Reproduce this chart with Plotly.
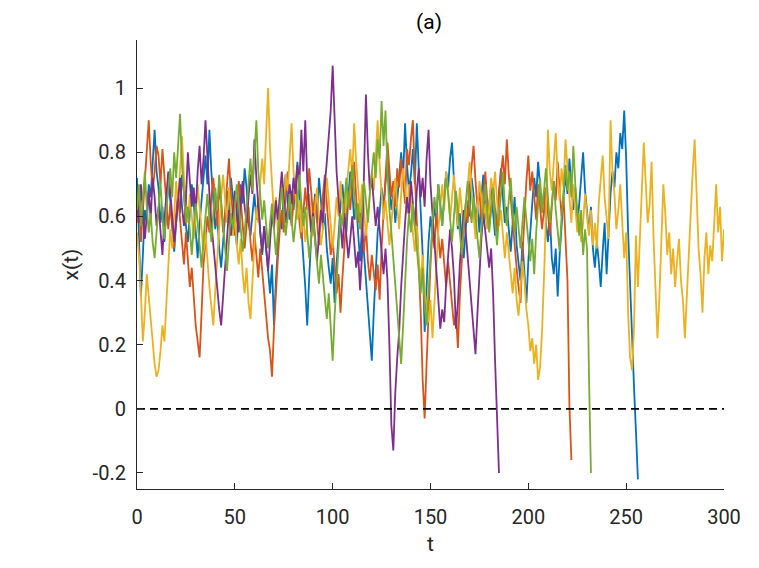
import plotly.graph_objects as go

blue_x = [
    0.72, 0.55, 0.35, 0.48, 0.62, 0.58, 0.70, 0.66, 0.78, 0.87,
    0.74, 0.69, 0.58, 0.63, 0.52, 0.60, 0.71, 0.65, 0.56, 0.49,
    0.58, 0.66, 0.61, 0.73, 0.68, 0.57, 0.52, 0.62, 0.70, 0.64,
    0.55, 0.47, 0.58, 0.66, 0.72, 0.79, 0.70, 0.87, 0.74, 0.63,
    0.56, 0.61, 0.50, 0.44, 0.53, 0.62, 0.68, 0.60, 0.72, 0.66,
    0.59, 0.51, 0.63, 0.70, 0.64, 0.75, 0.69, 0.58, 0.54, 0.62,
    0.67, 0.59, 0.65, 0.55, 0.48, 0.57, 0.50, 0.42, 0.36, 0.45,
    0.26, 0.40, 0.52, 0.61, 0.56, 0.67, 0.73, 0.64, 0.59, 0.68,
    0.62, 0.71, 0.77, 0.66, 0.55, 0.47, 0.38, 0.26, 0.41, 0.53,
    0.60, 0.67, 0.58, 0.72, 0.65, 0.56, 0.61, 0.50, 0.44, 0.39,
    0.47, 0.33, 0.45, 0.56, 0.63, 0.70, 0.62, 0.55, 0.66, 0.74,
    0.68, 0.59, 0.64, 0.53, 0.46, 0.57, 0.49, 0.40, 0.31, 0.22,
    0.15, 0.30, 0.44, 0.55, 0.61, 0.69, 0.63, 0.71, 0.78, 0.70,
    0.62, 0.67, 0.58, 0.65, 0.74, 0.80, 0.72, 0.89, 0.76, 0.68,
    0.73, 0.81, 0.70, 0.89, 0.75, 0.61, 0.48, 0.24, 0.39, 0.52,
    0.60, 0.55, 0.64, 0.58, 0.70, 0.63, 0.57, 0.66, 0.74, 0.69,
    0.78, 0.83, 0.71, 0.64, 0.56, 0.61, 0.52, 0.47, 0.58, 0.65,
    0.60, 0.72, 0.67, 0.59, 0.63, 0.55, 0.66, 0.73, 0.62, 0.57,
    0.64, 0.70, 0.61, 0.54, 0.60, 0.68, 0.75, 0.66, 0.58, 0.63,
    0.55, 0.49, 0.58, 0.66, 0.51, 0.45, 0.40, 0.52, 0.43, 0.33,
    0.46, 0.57, 0.64, 0.72, 0.66, 0.77, 0.70, 0.62, 0.68, 0.58,
    0.52, 0.61, 0.47, 0.42, 0.50, 0.35, 0.48, 0.59, 0.66, 0.73,
    0.67, 0.78, 0.70, 0.62, 0.69, 0.57, 0.64, 0.72, 0.80, 0.68,
    0.61, 0.55, 0.63, 0.50, 0.44, 0.52, 0.46, 0.38, 0.49, 0.58,
    0.42, 0.55, 0.67, 0.74, 0.69, 0.80, 0.75, 0.86, 0.81, 0.93,
    0.78, 0.55, 0.37, 0.20, 0.07, -0.07, -0.22,
]

orange_x = [
    0.58, 0.66, 0.52, 0.61, 0.72, 0.80, 0.90, 0.77, 0.68, 0.74,
    0.82, 0.79, 0.70, 0.81, 0.73, 0.62, 0.56, 0.64, 0.58, 0.50,
    0.61, 0.68, 0.59, 0.53, 0.45, 0.55, 0.47, 0.38, 0.44, 0.33,
    0.26, 0.21, 0.16, 0.30, 0.45, 0.52, 0.60, 0.55, 0.66, 0.72,
    0.63, 0.57, 0.69, 0.64, 0.55, 0.61, 0.70, 0.78, 0.67, 0.60,
    0.54, 0.62, 0.71, 0.65, 0.58, 0.50, 0.57, 0.63, 0.52, 0.46,
    0.55, 0.48, 0.41, 0.50, 0.43, 0.35, 0.29, 0.22, 0.18, 0.10,
    0.25, 0.38, 0.47, 0.56, 0.62, 0.55, 0.68, 0.74, 0.63, 0.57,
    0.66, 0.72, 0.64, 0.59, 0.53, 0.61, 0.69, 0.62, 0.75, 0.68,
    0.60, 0.66, 0.57, 0.51, 0.60, 0.67, 0.73, 0.64, 0.55, 0.48,
    0.53, 0.44, 0.36, 0.42, 0.30, 0.41, 0.52, 0.60, 0.68, 0.62,
    0.71, 0.77, 0.66, 0.58, 0.63, 0.54, 0.49, 0.57, 0.46, 0.40,
    0.48, 0.42, 0.37, 0.45, 0.34, 0.50, 0.63, 0.72, 0.83, 0.74,
    0.66, 0.71, 0.63, 0.75, 0.69, 0.78, 0.72, 0.64, 0.81, 0.76,
    0.84, 0.90, 0.73, 0.60, 0.45, 0.30, 0.09, -0.03, 0.14, 0.32,
    0.45, 0.56, 0.50, 0.61, 0.55, 0.47, 0.53, 0.44, 0.38, 0.46,
    0.40, 0.33, 0.26, 0.30, 0.19, 0.35, 0.48, 0.57, 0.64, 0.58,
    0.69, 0.75, 0.82, 0.71, 0.63, 0.68, 0.59, 0.66, 0.74, 0.65,
    0.57, 0.63, 0.70, 0.62, 0.55, 0.67, 0.74, 0.79, 0.70, 0.84,
    0.73, 0.65, 0.58, 0.51, 0.44, 0.38, 0.33, 0.48, 0.62, 0.71,
    0.79, 0.68, 0.74, 0.66, 0.59, 0.70, 0.64, 0.56, 0.62, 0.69,
    0.61, 0.54, 0.63, 0.71, 0.65, 0.77, 0.68, 0.60, 0.66, 0.55,
    0.40, 0.01, -0.16,
]

yellow_x = [
    0.55, 0.48, 0.36, 0.21, 0.30, 0.42, 0.35, 0.27, 0.19, 0.14,
    0.10, 0.12, 0.18, 0.26, 0.21, 0.33, 0.45, 0.56, 0.50, 0.62,
    0.71, 0.64, 0.76, 0.85, 0.72, 0.66, 0.58, 0.67, 0.61, 0.53,
    0.60, 0.70, 0.63, 0.57, 0.49, 0.55, 0.46, 0.38, 0.32, 0.26,
    0.37, 0.48, 0.59, 0.66, 0.73, 0.64, 0.58, 0.69, 0.62, 0.54,
    0.61, 0.51, 0.45, 0.53, 0.42, 0.36, 0.44, 0.33, 0.28, 0.40,
    0.52, 0.63, 0.58, 0.71, 0.78, 0.70, 0.86, 1.00, 0.81, 0.69,
    0.60, 0.66, 0.55, 0.62, 0.70, 0.64, 0.73, 0.68, 0.78, 0.89,
    0.74, 0.66, 0.59, 0.65, 0.55, 0.61, 0.52, 0.58, 0.67, 0.60,
    0.54, 0.63, 0.69, 0.59, 0.51, 0.56, 0.64, 0.72, 0.65, 0.58,
    0.50, 0.57, 0.66, 0.60, 0.71, 0.63, 0.55, 0.68, 0.75, 0.81,
    0.72, 0.89, 0.77, 0.68, 0.61, 0.70, 0.62, 0.54, 0.60, 0.67,
    0.74, 0.68, 0.79, 0.90, 0.76, 0.66, 0.59, 0.65, 0.57, 0.51,
    0.58, 0.64, 0.72, 0.63, 0.56, 0.67, 0.75, 0.69, 0.61, 0.70,
    0.64, 0.55, 0.49, 0.57, 0.46, 0.40, 0.48, 0.37, 0.31, 0.27,
    0.34, 0.22, 0.33, 0.45, 0.56, 0.63, 0.70, 0.62, 0.74, 0.68,
    0.59, 0.66, 0.73, 0.64, 0.57, 0.69, 0.62, 0.55, 0.61, 0.70,
    0.77, 0.68, 0.60, 0.53, 0.62, 0.71, 0.66, 0.58, 0.64, 0.56,
    0.63, 0.72, 0.67, 0.74, 0.65, 0.57, 0.62, 0.53, 0.47, 0.55,
    0.49, 0.42, 0.36, 0.44, 0.34, 0.29, 0.37, 0.46, 0.40, 0.31,
    0.26, 0.18, 0.22, 0.14, 0.20, 0.09, 0.13, 0.24, 0.41, 0.60,
    0.87, 0.74, 0.68, 0.79, 0.86, 0.72, 0.65, 0.75, 0.69, 0.84,
    0.73, 0.66, 0.58, 0.70, 0.63, 0.55, 0.61, 0.52, 0.58, 0.67,
    0.60, 0.54, 0.62, 0.51, 0.58, 0.50, 0.64, 0.72, 0.79, 0.66,
    0.58, 0.53, 0.90, 0.74, 0.67, 0.56, 0.62, 0.70, 0.58, 0.47,
    0.55, 0.30, 0.16, 0.12, 0.25, 0.54, 0.38, 0.56, 0.68, 0.83,
    0.69, 0.58, 0.64, 0.77, 0.53, 0.38, 0.22, 0.35, 0.52, 0.70,
    0.61, 0.48, 0.55, 0.42, 0.50, 0.38, 0.46, 0.53, 0.40, 0.34,
    0.22, 0.36, 0.50, 0.63, 0.74, 0.84, 0.68, 0.50, 0.42, 0.30,
    0.47, 0.55, 0.42, 0.51, 0.46, 0.58, 0.70, 0.55, 0.63, 0.46,
    0.56,
]

purple_x = [
    0.65, 0.58, 0.70, 0.62, 0.53, 0.60, 0.68, 0.59, 0.72, 0.66,
    0.57, 0.63, 0.55, 0.48, 0.59, 0.67, 0.74, 0.68, 0.60, 0.52,
    0.58, 0.66, 0.72, 0.63, 0.57, 0.65, 0.80, 0.71, 0.63, 0.69,
    0.61, 0.74, 0.82, 0.70, 0.78, 0.90, 0.76, 0.67, 0.58, 0.51,
    0.44, 0.36, 0.31, 0.26, 0.35, 0.47, 0.56, 0.62, 0.54, 0.60,
    0.68, 0.61, 0.55, 0.64, 0.71, 0.63, 0.58, 0.66, 0.73, 0.67,
    0.84, 0.72, 0.63, 0.55, 0.49, 0.57, 0.50, 0.43, 0.52, 0.61,
    0.56, 0.65, 0.59, 0.67, 0.74, 0.66, 0.58, 0.63, 0.70, 0.64,
    0.72, 0.67, 0.76, 0.70, 0.87, 0.74, 0.90, 0.71, 0.62, 0.55,
    0.61, 0.53, 0.46, 0.54, 0.62, 0.58, 0.70, 0.77, 0.85, 0.93,
    1.07, 0.88, 0.74, 0.65, 0.58, 0.50, 0.61, 0.55, 0.47, 0.53,
    0.60, 0.52, 0.44, 0.49, 0.37, 0.48, 0.70, 0.98, 0.80, 0.68,
    0.72, 0.64, 0.57, 0.63, 0.55, 0.48, 0.42, 0.50, 0.40, 0.20,
    -0.05, -0.13, 0.05, 0.16, 0.24, 0.38, 0.50, 0.58, 0.66, 0.60,
    0.71, 0.64, 0.57, 0.68, 0.75, 0.66, 0.72, 0.63, 0.78, 0.87,
    0.70, 0.61, 0.52, 0.44, 0.35, 0.25, 0.31, 0.27, 0.39, 0.48,
    0.56, 0.50, 0.41, 0.25, 0.33, 0.45, 0.54, 0.62, 0.55, 0.47,
    0.40, 0.34, 0.26, 0.17, 0.30, 0.42, 0.53, 0.61, 0.55, 0.49,
    0.44, 0.50, 0.36, 0.15, 0.00, -0.20,
]

green_x = [
    0.62, 0.70, 0.57, 0.66, 0.74, 0.63, 0.55, 0.61, 0.52, 0.47,
    0.56, 0.64, 0.71, 0.60, 0.53, 0.62, 0.69, 0.75, 0.66, 0.80,
    0.72, 0.84, 0.92, 0.76, 0.65, 0.58, 0.63, 0.55, 0.48, 0.57,
    0.64, 0.58, 0.51, 0.44, 0.53, 0.60, 0.67, 0.59, 0.52, 0.61,
    0.69, 0.62, 0.73, 0.65, 0.58, 0.50, 0.43, 0.52, 0.61, 0.56,
    0.63, 0.70, 0.64, 0.57, 0.49, 0.55, 0.62, 0.71, 0.78, 0.68,
    0.81, 0.90, 0.74, 0.66, 0.59, 0.65, 0.57, 0.50, 0.58, 0.64,
    0.56, 0.48, 0.55, 0.61, 0.69, 0.62, 0.54, 0.60, 0.67, 0.59,
    0.52, 0.58, 0.66, 0.73, 0.64, 0.57, 0.63, 0.55, 0.47, 0.53,
    0.60, 0.52, 0.45, 0.39, 0.48, 0.41, 0.35, 0.28, 0.36, 0.24,
    0.15, 0.29, 0.40, 0.52, 0.61, 0.57, 0.66, 0.72, 0.63, 0.69,
    0.76, 0.67, 0.59, 0.64, 0.56, 0.62, 0.71, 0.65, 0.58, 0.67,
    0.74, 0.80, 0.72, 0.84, 0.78, 0.96, 0.82, 0.93, 0.74, 0.62,
    0.55, 0.47, 0.38, 0.30, 0.22, 0.14, 0.26, 0.40, 0.52, 0.61,
    0.55, 0.64, 0.57, 0.49, 0.42, 0.36, 0.44, 0.32, 0.26, 0.38,
    0.50, 0.58, 0.66, 0.61, 0.70, 0.63, 0.57, 0.65, 0.72, 0.67,
    0.59, 0.52, 0.60, 0.68, 0.62, 0.55, 0.48, 0.57, 0.65, 0.71,
    0.64, 0.58, 0.66, 0.60, 0.53, 0.47, 0.56, 0.63, 0.70, 0.61,
    0.55, 0.62, 0.69, 0.58, 0.51, 0.60, 0.67, 0.74, 0.63, 0.57,
    0.65, 0.72, 0.61, 0.55, 0.63, 0.57, 0.50, 0.58, 0.66, 0.59,
    0.51, 0.46, 0.53, 0.42, 0.55, 0.64, 0.72, 0.61, 0.68, 0.75,
    0.66, 0.58, 0.64, 0.71, 0.62, 0.55, 0.49, 0.60, 0.69, 0.76,
    0.68, 0.74, 0.66, 0.82, 0.70, 0.61, 0.54, 0.62, 0.48, 0.56,
    0.50, 0.10, -0.20,
]

# reference level drawn as dashed line
threshold = 0
t_span = [0, 300]

series = [
    (blue_x, '#0072BD'),
    (orange_x, '#D95319'),
    (yellow_x, '#EDB120'),
    (purple_x, '#7E2F8E'),
    (green_x, '#77AC30'),
]

fig = go.Figure()

for values, color in series:
    t = list(range(len(values)))  # unit time step
    fig.add_trace(go.Scatter(
        x=t, y=values, mode='lines',
        line=dict(color=color, width=1.8),
        showlegend=False,
    ))

fig.add_trace(go.Scatter(
    x=t_span, y=[threshold, threshold], mode='lines',
    line=dict(color='black', width=1.8, dash='8px,5px'),
    showlegend=False,
))

# page body adds an 8px offset, so the figure is 8px smaller than the window
axis_color = '#262626'
fig.update_layout(
    width=751, height=560,
    margin=dict(l=129, r=35, t=32, b=79),
    paper_bgcolor='white', plot_bgcolor='white',
    font=dict(family='Roboto', size=20, color=axis_color),
    title=dict(text='(a)', x=0.5606, xanchor='center',
               yref='container', y=1, yanchor='top', pad=dict(t=6),
               font=dict(size=21, color='black')),
)
fig.update_xaxes(
    range=[0, 300], tickvals=[0, 50, 100, 150, 200, 250, 300],
    ticks='inside', ticklen=6, tickcolor=axis_color, ticklabelstandoff=10,
    showline=True, linecolor=axis_color, linewidth=1.2,
    showgrid=False, zeroline=False,
    title=dict(text='t', standoff=8, font=dict(size=21)),
)
fig.update_yaxes(
    range=[-0.25, 1.15],
    tickvals=[-0.2, 0, 0.2, 0.4, 0.6, 0.8, 1],
    ticktext=['-0.2', '0', '0.2', '0.4', '0.6', '0.8', '1'],
    ticks='inside', ticklen=6, tickcolor=axis_color, ticklabelstandoff=6,
    showline=True, linecolor=axis_color, linewidth=1.2,
    showgrid=False, zeroline=False,
    title=dict(text='x(t)', standoff=8, font=dict(size=21)),
)

fig.write_html("out.html")
